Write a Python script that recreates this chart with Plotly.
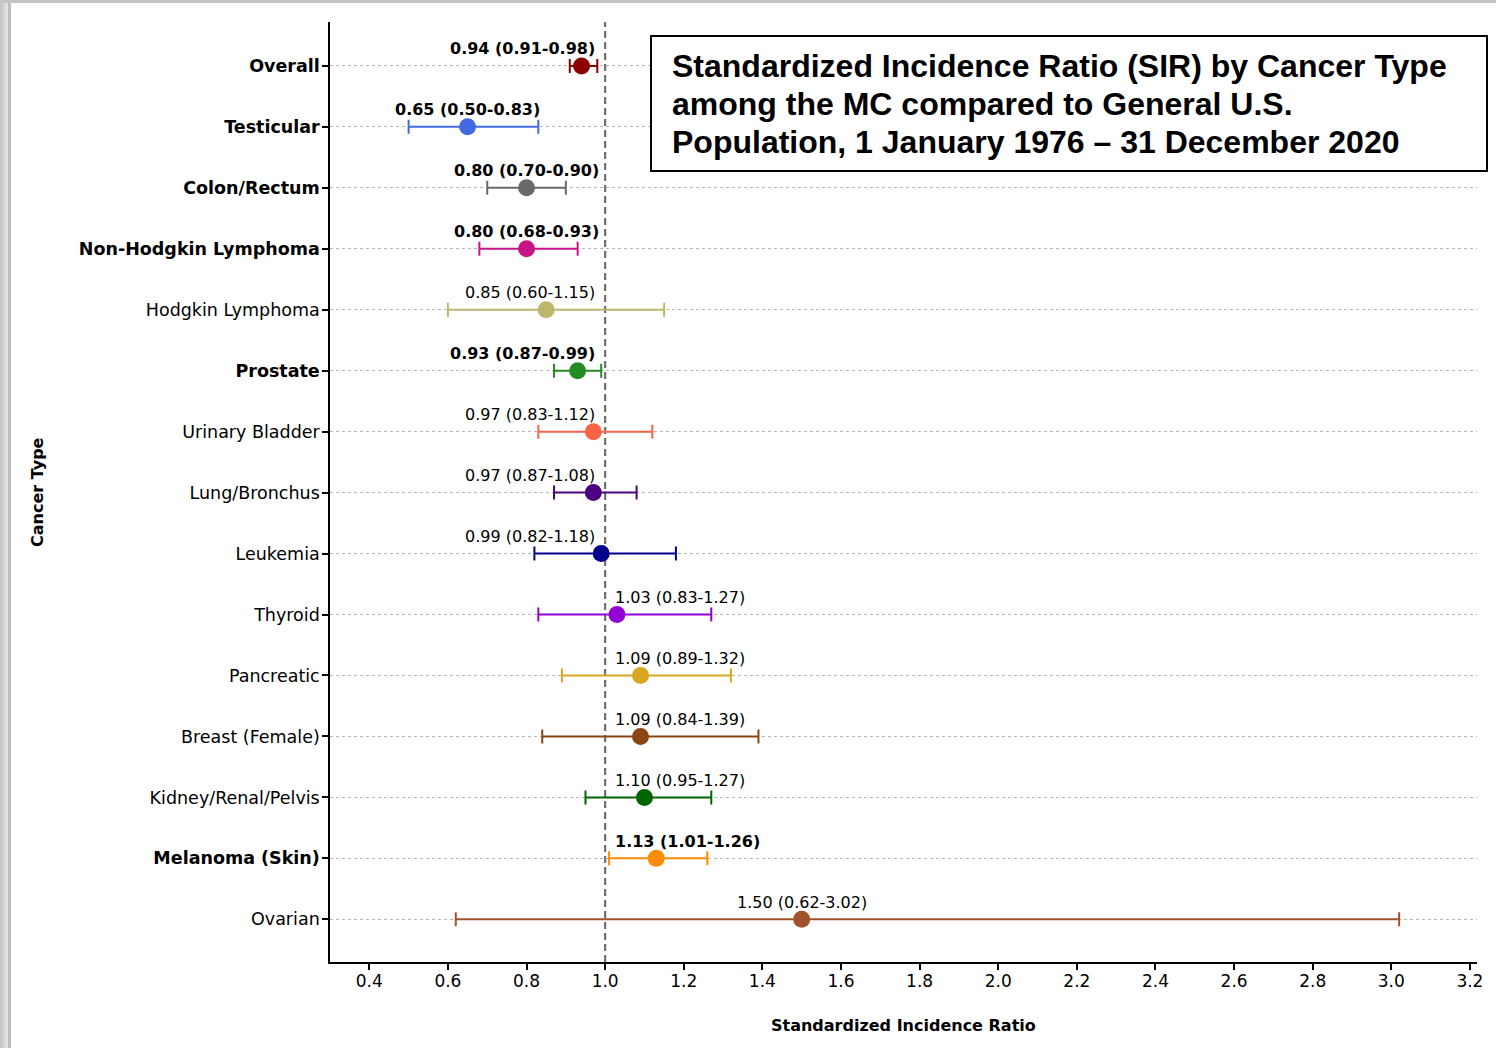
import plotly.graph_objects as go

categories = ["Overall", "Testicular", "Colon/Rectum", "Non-Hodgkin Lymphoma", "Hodgkin Lymphoma",
              "Prostate", "Urinary Bladder", "Lung/Bronchus", "Leukemia", "Thyroid", "Pancreatic",
              "Breast (Female)", "Kidney/Renal/Pelvis", "Melanoma (Skin)", "Ovarian"]
sir = [0.94, 0.65, 0.80, 0.80, 0.85, 0.93, 0.97, 0.97, 0.99, 1.03, 1.09, 1.09, 1.10, 1.13, 1.50]
ci_low = [0.91, 0.50, 0.70, 0.68, 0.60, 0.87, 0.83, 0.87, 0.82, 0.83, 0.89, 0.84, 0.95, 1.01, 0.62]
ci_high = [0.98, 0.83, 0.90, 0.93, 1.15, 0.99, 1.12, 1.08, 1.18, 1.27, 1.32, 1.39, 1.27, 1.26, 3.02]
significant = [True, True, True, True, False, True, False, False, False, False, False, False, False, True, False]
colors = ["#8B0000", "#4169E1", "#696969", "#C71585", "#BDB76B", "#228B22", "#FF6347", "#4B0082",
          "#00008B", "#9400D3", "#DAA520", "#8B4513", "#006400", "#FF8C00", "#A0522D"]
title_lines = ["Standardized Incidence Ratio (SIR) by Cancer Type",
               "among the MC compared to General U.S.",
               "Population, 1 January 1976 – 31 December 2020"]
x_ticks = [0.4, 0.6, 0.8, 1.0, 1.2, 1.4, 1.6, 1.8, 2.0, 2.2, 2.4, 2.6, 2.8, 3.0, 3.2]

FONT = "DejaVu Sans"
L, R, T, B = 330, 1477, 22, 962
W, H = 1496, 1048

def px_x(p):
    return (p - L) / (R - L)

def px_y(p):
    return (B - p) / (B - T)

fig = go.Figure()

for i, cat in enumerate(categories):
    fig.add_trace(go.Scatter(
        x=[sir[i]], y=[cat], mode="markers",
        marker=dict(size=17, color=colors[i]),
        error_x=dict(type="data", symmetric=False,
                     array=[ci_high[i] - sir[i]], arrayminus=[sir[i] - ci_low[i]],
                     color=colors[i], thickness=2, width=7),
        showlegend=False, hoverinfo="skip"))

annotations = []
for i, cat in enumerate(categories):
    txt = f"{sir[i]:.2f} ({ci_low[i]:.2f}-{ci_high[i]:.2f})"
    if significant[i]:
        txt = f"<b>{txt}</b>"
    if abs(sir[i] - 1.0) < 0.18:
        if sir[i] < 1.0:
            ax, anchor = 0.98, "right"
        else:
            ax, anchor = 1.02, "left"
    else:
        ax, anchor = sir[i], "center"
    annotations.append(dict(x=ax, y=cat, xref="x", yref="y", text=txt, showarrow=False,
                            xanchor=anchor, yanchor="middle", yshift=17,
                            font=dict(family=FONT, size=16, color="black")))

# axis titles
annotations.append(dict(x=0.5, y=px_y(1025), xref="paper", yref="paper",
                        text="<b>Standardized Incidence Ratio</b>", showarrow=False,
                        xanchor="center", yanchor="middle",
                        font=dict(family=FONT, size=16, color="black")))
annotations.append(dict(x=px_x(37), y=0.5, xref="paper", yref="paper",
                        text="<b>Cancer Type</b>", showarrow=False, textangle=-90,
                        xanchor="center", yanchor="middle",
                        font=dict(family=FONT, size=16, color="black")))
# title box text
for k, line in enumerate(title_lines):
    annotations.append(dict(x=px_x(670), y=px_y(66 + 38 * k), xref="paper", yref="paper",
                            text=f"<b>{line}</b>", showarrow=False,
                            xanchor="left", yanchor="middle", align="left",
                            font=dict(family="Liberation Sans", size=32, color="black")))

shapes = [
    dict(type="line", xref="x", yref="paper", x0=1.0, x1=1.0, y0=0, y1=1,
         line=dict(color="#707070", width=2.2, dash="7px,4px"), layer="below"),
    dict(type="rect", xref="paper", yref="paper", x0=px_x(651), x1=px_x(1487),
         y0=px_y(171), y1=px_y(36), line=dict(color="black", width=2),
         fillcolor="white", layer="above"),
]
# screenshot shadow edges
shadow = [(0, 3, "#c8c8c8"), (3, 6, "#d6d6d6"), (6, 8, "#e2e2e2"), (8, 11, "#bdbdbd")]
for x0, x1, c in shadow:
    shapes.append(dict(type="rect", xref="paper", yref="paper", x0=px_x(x0), x1=px_x(x1),
                       y0=px_y(H + 5), y1=px_y(-5), line=dict(width=0), fillcolor=c, layer="above"))
shapes.append(dict(type="rect", xref="paper", yref="paper", x0=px_x(0), x1=px_x(W + 5),
                   y0=px_y(3), y1=px_y(-5), line=dict(width=0), fillcolor="#c4c4c4", layer="above"))

ticktext = [f"<b>{c}</b>" if s else c for c, s in zip(categories, significant)]

fig.update_layout(
    width=W, height=H,
    margin=dict(l=L, r=W - R, t=T, b=H - B),
    paper_bgcolor="white", plot_bgcolor="white",
    annotations=annotations, shapes=shapes,
    xaxis=dict(range=[0.3, 3.218], tickmode="array",
               tickvals=x_ticks, ticktext=[f"{v:.1f}" for v in x_ticks],
               showgrid=False, zeroline=False, showline=True, linecolor="black", linewidth=1.5,
               ticks="outside", ticklen=6, tickwidth=1.5, tickcolor="black",
               ticklabelstandoff=-3,
               tickfont=dict(family=FONT, size=17, color="black")),
    yaxis=dict(type="category", categoryorder="array", categoryarray=categories,
               tickmode="array", tickvals=categories, ticktext=ticktext,
               range=[14.7, -0.72], showgrid=True, gridcolor="#b5b5b5", gridwidth=1,
               griddash="dot", zeroline=False, showline=True, linecolor="black", linewidth=1.5,
               ticks="outside", ticklen=6, tickwidth=1.5, tickcolor="black",
               ticklabelstandoff=-1,
               tickfont=dict(family=FONT, size=17.5, color="black")),
)

fig.write_html("out.html")
